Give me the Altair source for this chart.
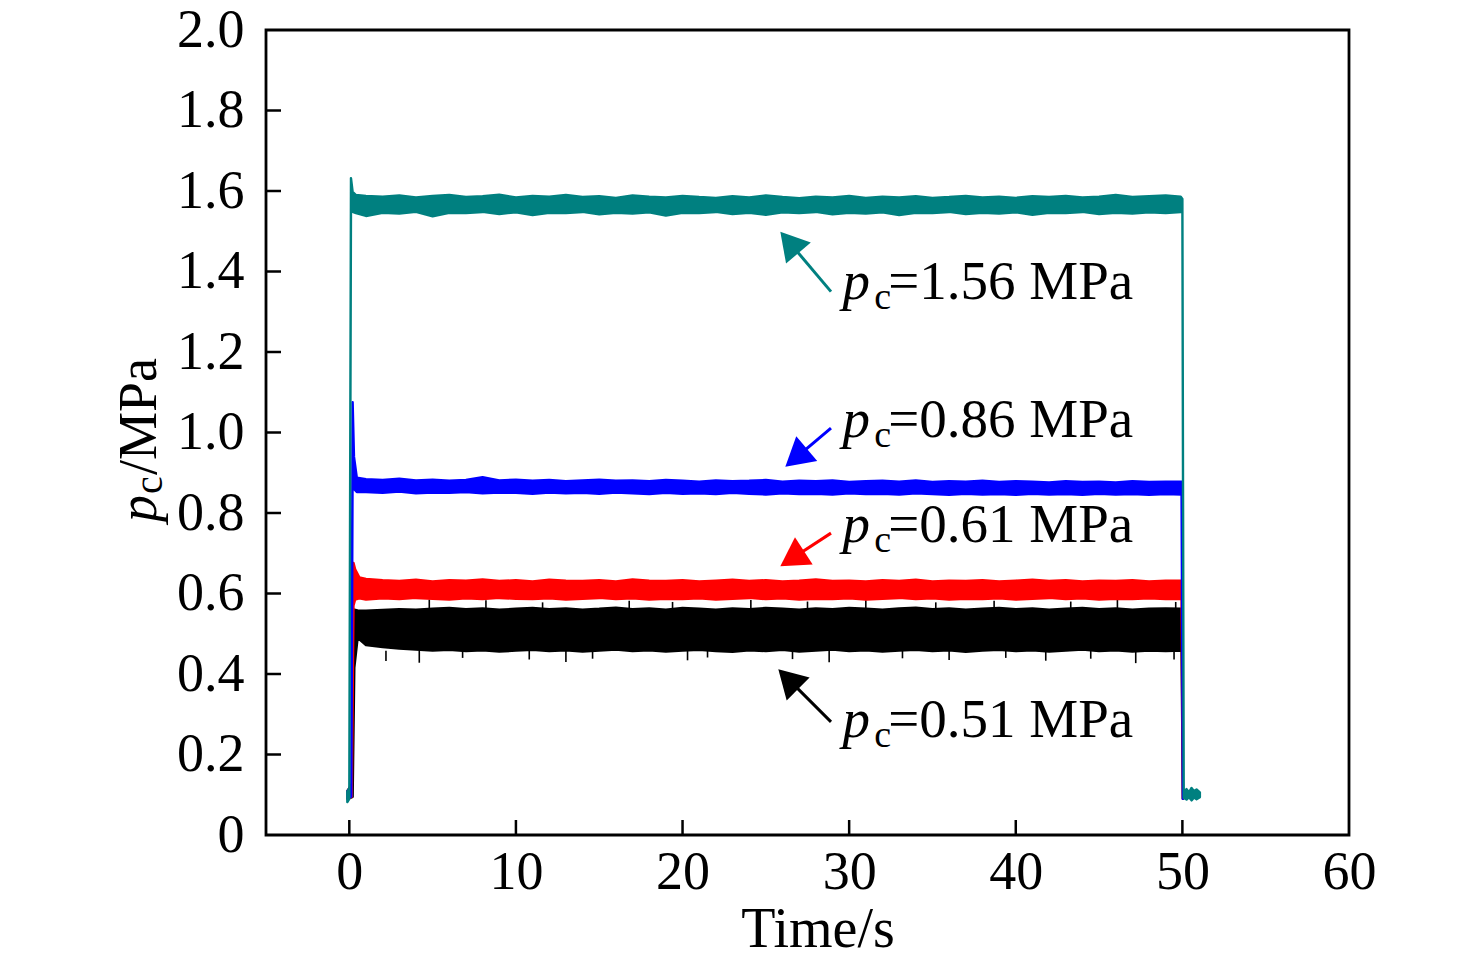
import math
import altair as alt
import pandas as pd

# ---------------- data ----------------
grid_t = list(range(1, 50))  # sample times (s) for the steady part

# teal  (p_c = 1.56 MPa)
teal_head_t = [-0.12, 0.0, 0.1, 0.2, 0.4]
teal_head_lo = [0.082, 0.09, 1.56, 1.548, 1.545]
teal_head_hi = [0.108, 0.115, 1.632, 1.598, 1.590]
teal_lo = [1.538, 1.546, 1.544, 1.548, 1.537, 1.546, 1.545, 1.548, 1.543, 1.547,
           1.540, 1.546, 1.545, 1.548, 1.542, 1.546, 1.544, 1.547, 1.539, 1.546,
           1.545, 1.548, 1.543, 1.546, 1.541, 1.547, 1.545, 1.548, 1.542, 1.546,
           1.544, 1.547, 1.540, 1.546, 1.545, 1.548, 1.543, 1.546, 1.544, 1.547,
           1.541, 1.546, 1.545, 1.548, 1.543, 1.546, 1.544, 1.547, 1.545]
teal_hi = [1.588, 1.586, 1.589, 1.584, 1.588, 1.590, 1.585, 1.587, 1.591, 1.584,
           1.588, 1.586, 1.590, 1.585, 1.587, 1.583, 1.589, 1.586, 1.584, 1.588,
           1.585, 1.583, 1.587, 1.584, 1.589, 1.585, 1.582, 1.586, 1.584, 1.588,
           1.583, 1.586, 1.584, 1.587, 1.583, 1.585, 1.588, 1.584, 1.586, 1.583,
           1.587, 1.585, 1.588, 1.584, 1.586, 1.590, 1.585, 1.587, 1.589]
teal_tail_t = [49.9, 50.0, 50.08, 50.25, 50.4, 50.55, 50.7, 50.85, 51.05]
teal_tail_lo = [1.548, 1.55, 0.092, 0.088, 0.094, 0.086, 0.093, 0.089, 0.094]
teal_tail_hi = [1.586, 1.58, 0.108, 0.114, 0.106, 0.117, 0.109, 0.113, 0.106]

# blue  (p_c = 0.86 MPa)
blue_head_t = [-0.1, 0.12, 0.2, 0.28, 0.45]
blue_head_lo = [0.09, 0.095, 0.93, 0.86, 0.852]
blue_head_hi = [0.11, 0.12, 1.075, 0.94, 0.888]
blue_lo = [0.852, 0.850, 0.853, 0.849, 0.851, 0.850, 0.852, 0.849, 0.851, 0.850,
           0.848, 0.851, 0.849, 0.850, 0.848, 0.851, 0.849, 0.847, 0.850, 0.848,
           0.849, 0.847, 0.850, 0.848, 0.846, 0.849, 0.847, 0.848, 0.846, 0.849,
           0.847, 0.848, 0.846, 0.849, 0.847, 0.845, 0.848, 0.846, 0.847, 0.845,
           0.848, 0.846, 0.847, 0.845, 0.848, 0.846, 0.847, 0.845, 0.847]
blue_hi = [0.884, 0.882, 0.885, 0.881, 0.883, 0.880, 0.882, 0.889, 0.881, 0.883,
           0.880, 0.882, 0.879, 0.881, 0.883, 0.880, 0.881, 0.879, 0.882, 0.880,
           0.878, 0.881, 0.879, 0.880, 0.882, 0.878, 0.880, 0.879, 0.881, 0.877,
           0.879, 0.880, 0.878, 0.881, 0.877, 0.879, 0.878, 0.880, 0.877, 0.879,
           0.878, 0.876, 0.879, 0.877, 0.878, 0.876, 0.879, 0.877, 0.878]
blue_tail_t = [49.95, 50.03]
blue_tail_lo = [0.846, 0.09]
blue_tail_hi = [0.878, 0.11]

# red  (p_c = 0.61 MPa)
red_head_t = [-0.1, 0.15, 0.25, 0.35, 0.6]
red_head_lo = [0.09, 0.095, 0.57, 0.585, 0.588]
red_head_hi = [0.11, 0.12, 0.676, 0.66, 0.640]
red_lo = [0.585, 0.588, 0.586, 0.589, 0.587, 0.585, 0.588, 0.586, 0.589, 0.587,
          0.586, 0.588, 0.585, 0.587, 0.589, 0.586, 0.588, 0.585, 0.587, 0.586,
          0.588, 0.585, 0.587, 0.589, 0.586, 0.588, 0.585, 0.587, 0.586, 0.588,
          0.585, 0.587, 0.589, 0.586, 0.588, 0.585, 0.587, 0.586, 0.588, 0.585,
          0.587, 0.589, 0.586, 0.588, 0.585, 0.587, 0.586, 0.588, 0.586]
red_hi = [0.636, 0.633, 0.631, 0.634, 0.630, 0.633, 0.632, 0.635, 0.631, 0.633,
          0.630, 0.634, 0.632, 0.631, 0.633, 0.630, 0.635, 0.632, 0.631, 0.633,
          0.630, 0.632, 0.634, 0.631, 0.633, 0.630, 0.632, 0.635, 0.631, 0.632,
          0.630, 0.633, 0.631, 0.634, 0.630, 0.632, 0.631, 0.633, 0.630, 0.632,
          0.634, 0.631, 0.633, 0.630, 0.632, 0.631, 0.633, 0.630, 0.632]
red_tail_t = [49.95, 50.03]
red_tail_lo = [0.587, 0.09]
red_tail_hi = [0.632, 0.11]

# black  (p_c = 0.51 MPa)
black_head_t = [-0.1, 0.2, 0.3, 0.5]
black_head_lo = [0.09, 0.095, 0.415, 0.49]
black_head_hi = [0.11, 0.13, 0.56, 0.558]
black_lo = [0.472, 0.467, 0.463, 0.461, 0.458, 0.460, 0.457, 0.459, 0.456, 0.458,
            0.460, 0.457, 0.459, 0.456, 0.458, 0.461, 0.457, 0.459, 0.456, 0.458,
            0.460, 0.457, 0.455, 0.459, 0.457, 0.460, 0.456, 0.458, 0.461, 0.457,
            0.459, 0.456, 0.458, 0.460, 0.457, 0.459, 0.455, 0.458, 0.460, 0.457,
            0.459, 0.456, 0.458, 0.461, 0.457, 0.459, 0.456, 0.458, 0.457]
black_hi = [0.557, 0.559, 0.561, 0.560, 0.562, 0.564, 0.561, 0.563, 0.560, 0.562,
            0.564, 0.561, 0.563, 0.560, 0.562, 0.565, 0.561, 0.563, 0.560, 0.564,
            0.562, 0.560, 0.563, 0.561, 0.564, 0.562, 0.560, 0.563, 0.561, 0.564,
            0.562, 0.560, 0.563, 0.565, 0.561, 0.563, 0.560, 0.562, 0.564, 0.561,
            0.563, 0.560, 0.562, 0.564, 0.561, 0.563, 0.560, 0.562, 0.563]
black_tail_t = [49.95, 50.03]
black_tail_lo = [0.458, 0.09]
black_tail_hi = [0.562, 0.11]

# black spikes (time, tip value)
spike_dn_t = [2.2, 4.2, 6.8, 10.8, 13.0, 14.6, 20.3, 21.5, 26.6, 28.8, 33.2, 36.0,
              39.4, 41.8, 44.5, 47.2, 49.5]
spike_dn_tip = [0.432, 0.428, 0.440, 0.436, 0.430, 0.438, 0.434, 0.441, 0.437, 0.429,
                0.439, 0.435, 0.440, 0.433, 0.438, 0.427, 0.436]
spike_up_t = [4.8, 8.2, 11.6, 16.8, 19.4, 24.1, 27.5, 31.0, 35.2, 38.7, 43.3, 46.1, 49.6]
spike_up_tip = [0.585, 0.583, 0.578, 0.582, 0.579, 0.584, 0.580, 0.583, 0.578, 0.582,
                0.580, 0.584, 0.579]

# annotations
ann_text = ["=1.56 MPa", "=0.86 MPa", "=0.61 MPa", "=0.51 MPa"]
ann_base = [1.332, 0.989, 0.728, 0.244]
ann_color = ["#008080", "#0000ff", "#ff0000", "#000000"]
arrow_tail_x = [28.91, 28.91, 28.91, 28.91]
arrow_tail_y = [1.350, 1.011, 0.750, 0.281]
arrow_tip_x = [25.87, 26.17, 25.87, 25.75]
arrow_tip_y = [1.499, 0.915, 0.668, 0.412]

x_ticks = [0, 10, 20, 30, 40, 50, 60]
y_ticks = [0.0, 0.2, 0.4, 0.6, 0.8, 1.0, 1.2, 1.4, 1.6, 1.8, 2.0]

# ---------------- chart ----------------
W, H = 1083, 805
XMIN, XMAX, YMIN, YMAX = -5, 60, 0, 2
FONT = "Liberation Serif"
FS = 54

xs = alt.Scale(domain=[XMIN, XMAX], nice=False, zero=False)
ys = alt.Scale(domain=[YMIN, YMAX], nice=False, zero=False)
x_axis = alt.Axis(values=x_ticks, ticks=False, domain=False, grid=False,
                  labelFont=FONT, labelFontSize=FS, labelColor="black",
                  labelPadding=10, labelFlush=False, labelOverlap=False,
                  format="d", title="Time/s", titleFont=FONT, titleFontSize=56,
                  titleFontWeight="normal", titleColor="black", titlePadding=3,
                  titleX=W / 2 + 10)
y_axis = alt.Axis(values=y_ticks, ticks=False, domain=False, grid=False,
                  labelFont=FONT, labelFontSize=FS, labelColor="black",
                  labelPadding=22, labelFlush=False, labelOverlap=False,
                  labelExpr="datum.value == 0 ? '0' : format(datum.value, '.1f')",
                  title=None)


def X(field):
    return alt.X(field, type="quantitative", scale=xs, axis=x_axis)


def Y(field):
    return alt.Y(field, type="quantitative", scale=ys, axis=y_axis)


def band(head_t, head_lo, head_hi, lo, hi, tail_t, tail_lo, tail_hi, color):
    df = pd.DataFrame({
        "t": head_t + grid_t + tail_t,
        "lo": head_lo + lo + tail_lo,
        "hi": head_hi + hi + tail_hi,
    })
    return alt.Chart(df).mark_area(color=color, stroke=color, strokeWidth=2.4,
                                   strokeJoin="round", opacity=1).encode(
        x=X("t"), y=Y("lo"), y2="hi")


layers = [
    band(black_head_t, black_head_lo, black_head_hi, black_lo, black_hi,
         black_tail_t, black_tail_lo, black_tail_hi, "#000000"),
    alt.Chart(pd.DataFrame({"t": spike_dn_t, "a": [0.458] * len(spike_dn_t), "b": spike_dn_tip}))
    .mark_rule(color="black", strokeWidth=1.6).encode(x=X("t"), y=Y("a"), y2="b"),
    alt.Chart(pd.DataFrame({"t": spike_up_t, "a": [0.562] * len(spike_up_t), "b": spike_up_tip}))
    .mark_rule(color="black", strokeWidth=1.6).encode(x=X("t"), y=Y("a"), y2="b"),
    band(red_head_t, red_head_lo, red_head_hi, red_lo, red_hi,
         red_tail_t, red_tail_lo, red_tail_hi, "#ff0000"),
    band(blue_head_t, blue_head_lo, blue_head_hi, blue_lo, blue_hi,
         blue_tail_t, blue_tail_lo, blue_tail_hi, "#0000ff"),
    band(teal_head_t, teal_head_lo, teal_head_hi, teal_lo, teal_hi,
         teal_tail_t, teal_tail_lo, teal_tail_hi, "#008080"),
]

# inward ticks
layers.append(alt.Chart(pd.DataFrame({"v": x_ticks[:-1]})).mark_rule(
    color="black", strokeWidth=2.5).encode(x=X("v"), y=alt.value(H), y2=alt.value(H - 15)))
layers.append(alt.Chart(pd.DataFrame({"v": y_ticks[1:-1]})).mark_rule(
    color="black", strokeWidth=2.5).encode(y=Y("v"), x=alt.value(0), x2=alt.value(15)))

# arrows
sx = W / (XMAX - XMIN)
sy = H / (YMAX - YMIN)
HEAD = 14.0
cx, cy, ang = [], [], []
for tx, ty, hx, hy in zip(arrow_tail_x, arrow_tail_y, arrow_tip_x, arrow_tip_y):
    dx = (hx - tx) * sx
    dy = -(hy - ty) * sy
    L = math.hypot(dx, dy)
    ux, uy = dx / L, dy / L
    cx.append(hx - ux * HEAD / sx)
    cy.append(hy + uy * HEAD / sy)
    ang.append(math.degrees(math.atan2(ux, -uy)) % 360)
arrows = pd.DataFrame({"tx": arrow_tail_x, "ty": arrow_tail_y, "cx": cx, "cy": cy,
                       "ang": ang, "col": ann_color})
layers.append(alt.Chart(arrows).mark_rule(strokeWidth=3).encode(
    x=X("tx"), y=Y("ty"), x2="cx", y2="cy",
    color=alt.Color("col:N", scale=None)))
layers.append(alt.Chart(arrows).mark_point(shape="triangle-up", filled=True, size=1050,
                                           opacity=1, strokeWidth=0).encode(
    x=X("cx"), y=Y("cy"), angle=alt.Angle("ang:Q", scale=None),
    color=alt.Color("col:N", scale=None)))

# annotation texts
sub_off = 10 / sy
ann = pd.DataFrame({"px": [29.6] * 4, "cx": [31.5] * 4, "ex": [32.35] * 4,
                    "yb": ann_base, "yc": [b - sub_off for b in ann_base], "txt": ann_text})
layers.append(alt.Chart(ann).mark_text(text="p", font=FONT, fontSize=FS + 1, fontStyle="italic",
                                       align="left", baseline="alphabetic", color="black")
              .encode(x=X("px"), y=Y("yb")))
layers.append(alt.Chart(ann).mark_text(text="c", font=FONT, fontSize=38,
                                       align="left", baseline="alphabetic", color="black")
              .encode(x=X("cx"), y=Y("yc")))
layers.append(alt.Chart(ann).mark_text(font=FONT, fontSize=FS + 1,
                                       align="left", baseline="alphabetic", color="black")
              .encode(x=X("ex"), y=Y("yb"), text="txt:N"))

# y-axis title  p_c/MPa (rotated)
one = pd.DataFrame({"a": [0]})
layers.append(alt.Chart(one).mark_text(text="p", font=FONT, fontSize=FS, fontStyle="italic",
                                       angle=270, align="left", baseline="alphabetic", color="black")
              .encode(x=alt.value(-110), y=alt.value(492)))
layers.append(alt.Chart(one).mark_text(text="c", font=FONT, fontSize=40,
                                       angle=270, align="left", baseline="alphabetic", color="black")
              .encode(x=alt.value(-104), y=alt.value(464)))
layers.append(alt.Chart(one).mark_text(text="/MPa", font=FONT, fontSize=FS,
                                       angle=270, align="left", baseline="alphabetic", color="black")
              .encode(x=alt.value(-110), y=alt.value(445)))

chart = alt.layer(*layers).properties(
    width=W, height=H,
    background="white",
    autosize=alt.AutoSizeParams(type="none"),
    padding={"left": 258, "top": 22, "right": 70, "bottom": 122},
).configure_view(stroke="black", strokeWidth=2.8)

chart.save("out.html", embed_options={"renderer": "svg", "actions": False})
